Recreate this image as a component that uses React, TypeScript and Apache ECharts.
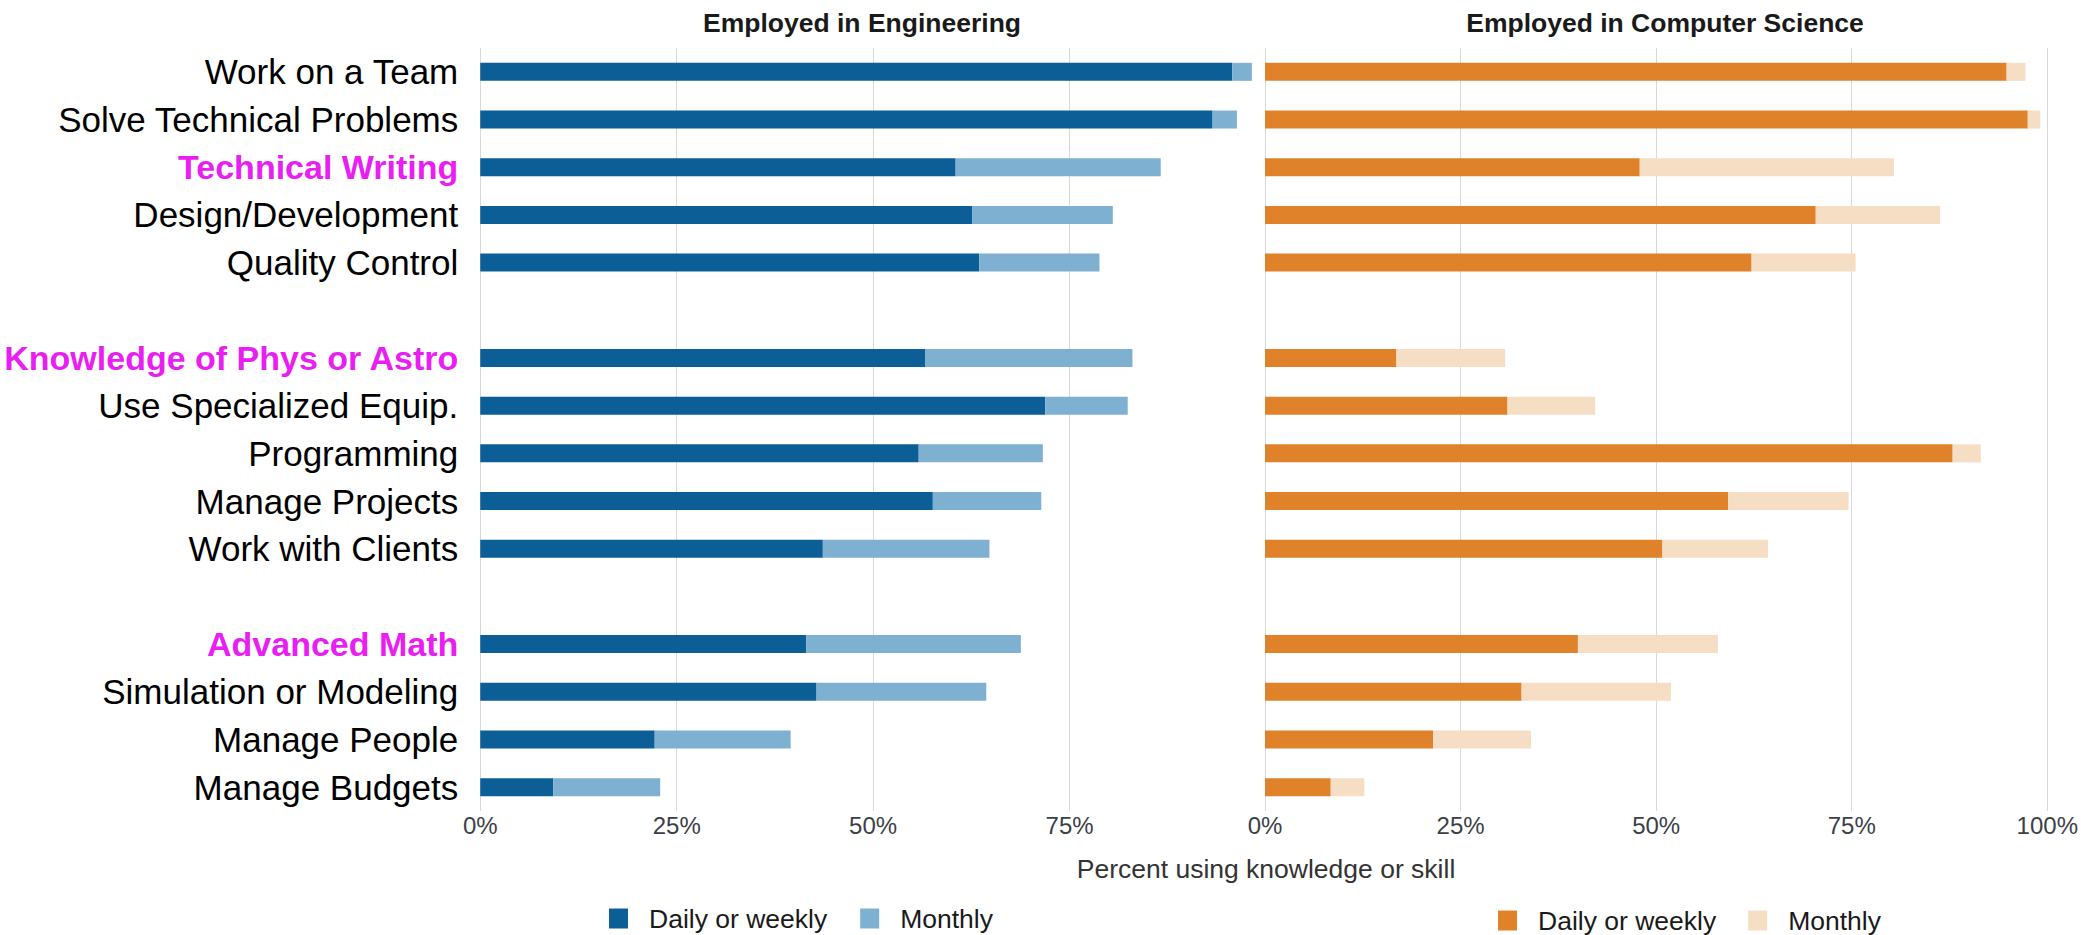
import React, { useEffect, useRef } from 'react';
import * as echarts from 'echarts';

// ---- data ----
const categories = [
  'Work on a Team',
  'Solve Technical Problems',
  'Technical Writing',
  'Design/Development',
  'Quality Control',
  ' ',
  'Knowledge of Phys or Astro',
  'Use Specialized Equip.',
  'Programming',
  'Manage Projects',
  'Work with Clients',
  '  ',
  'Advanced Math',
  'Simulation or Modeling',
  'Manage People',
  'Manage Budgets',
];
const highlighted = ['Technical Writing', 'Knowledge of Phys or Astro', 'Advanced Math'];

const engDaily = [95.7, 93.2, 60.5, 62.6, 63.5, null, 56.6, 71.9, 55.8, 57.6, 43.6, null, 41.5, 42.8, 22.2, 9.3];
const engMonthly = [2.5, 3.1, 26.1, 17.9, 15.3, null, 26.4, 10.5, 15.8, 13.8, 21.2, null, 27.3, 21.6, 17.3, 13.6];
const csDaily = [94.8, 97.5, 47.9, 70.4, 62.2, null, 16.8, 31.0, 87.9, 59.2, 50.8, null, 40.0, 32.8, 21.5, 8.4];
const csMonthly = [2.4, 1.6, 32.5, 15.9, 13.3, null, 13.9, 11.2, 3.6, 15.4, 13.5, null, 17.9, 19.1, 12.5, 4.3];

const panelTitles = ['Employed in Engineering', 'Employed in Computer Science'];
const axisTitle = 'Percent using knowledge or skill';
const legendNames = ['Daily or weekly', 'Monthly'];
const CS_SUFFIX = ' (CS)';

const FONT = 'Liberation Sans, Arial, sans-serif';
const C_DARK_BLUE = '#0b5e96';
const C_LIGHT_BLUE = '#7eb0d2';
const C_ORANGE = '#e0822a';
const C_PEACH = '#f6dec4';
const C_MAGENTA = '#e91ef2';

export default function App() {
  const ref = useRef<HTMLDivElement>(null);

  useEffect(() => {
    if (!ref.current) return;
    const chart = echarts.init(ref.current, undefined, { renderer: 'svg' });

    const gridTop = 48;
    const gridHeight = 763;

    const xAxisCommon = {
      type: 'value',
      min: 0,
      max: 100,
      interval: 25,
      axisLine: { show: false },
      axisTick: { show: false },
      splitLine: { show: true, lineStyle: { color: '#d9d9d9', width: 1 } },
      axisLabel: {
        formatter: (v: number) => `${v}%`,
        fontSize: 24,
        fontFamily: FONT,
        color: '#3a3f48',
        margin: 2,
      },
    };

    const barCommon = { type: 'bar', barWidth: 18 };

    const legendText = {
      fontSize: 26.5,
      fontFamily: FONT,
      color: '#1a1a1a',
      padding: [0, 0, 0, 16],
    };

    chart.setOption({
      animation: false,
      backgroundColor: '#ffffff',
      grid: [
        { left: 472, width: 794, top: gridTop, height: gridHeight },
        { left: 1265, width: 793, top: gridTop, height: gridHeight },
      ],
      xAxis: [
        {
          ...xAxisCommon,
          gridIndex: 0,
          axisLabel: { ...xAxisCommon.axisLabel, showMaxLabel: false },
          splitLine: { ...xAxisCommon.splitLine, showMaxLine: false },
        },
        { ...xAxisCommon, gridIndex: 1 },
      ],
      yAxis: [
        {
          type: 'category',
          gridIndex: 0,
          data: categories,
          inverse: true,
          axisLine: { show: false },
          axisTick: { show: false },
          axisLabel: {
            margin: 22,
            fontSize: 35,
            fontFamily: FONT,
            color: '#000000',
            interval: 0,
            formatter: (v: string) => (highlighted.includes(v) ? `{m|${v}}` : v),
            rich: {
              m: { color: C_MAGENTA, fontWeight: 'bold', fontSize: 34, fontFamily: FONT },
            },
          },
        },
        {
          type: 'category',
          gridIndex: 1,
          data: categories,
          inverse: true,
          axisLine: { show: false },
          axisTick: { show: false },
          axisLabel: { show: false },
        },
      ],
      legend: [
        {
          data: legendNames,
          left: 609,
          top: 905,
          padding: 0,
          itemWidth: 19,
          itemHeight: 20,
          itemGap: 33,
          selectedMode: false,
          icon: 'rect',
          textStyle: legendText,
        },
        {
          data: legendNames.map((n) => n + CS_SUFFIX),
          left: 1498,
          top: 907,
          padding: 0,
          itemWidth: 19,
          itemHeight: 20,
          itemGap: 32,
          selectedMode: false,
          icon: 'rect',
          formatter: (n: string) => n.replace(CS_SUFFIX, ''),
          textStyle: legendText,
        },
      ],
      series: [
        {
          ...barCommon,
          name: legendNames[0],
          xAxisIndex: 0,
          yAxisIndex: 0,
          stack: 'eng',
          data: engDaily,
          itemStyle: { color: C_DARK_BLUE },
        },
        {
          ...barCommon,
          name: legendNames[1],
          xAxisIndex: 0,
          yAxisIndex: 0,
          stack: 'eng',
          data: engMonthly,
          itemStyle: { color: C_LIGHT_BLUE },
        },
        {
          ...barCommon,
          name: legendNames[0] + CS_SUFFIX,
          xAxisIndex: 1,
          yAxisIndex: 1,
          stack: 'cs',
          data: csDaily,
          itemStyle: { color: C_ORANGE },
        },
        {
          ...barCommon,
          name: legendNames[1] + CS_SUFFIX,
          xAxisIndex: 1,
          yAxisIndex: 1,
          stack: 'cs',
          data: csMonthly,
          itemStyle: { color: C_PEACH },
        },
      ],
      graphic: [
        {
          type: 'text',
          x: 862,
          y: 23,
          style: {
            text: panelTitles[0],
            align: 'center',
            verticalAlign: 'middle',
            fontSize: 26.5,
            fontWeight: 'bold',
            fontFamily: FONT,
            fill: '#1a1a1a',
          },
        },
        {
          type: 'text',
          x: 1665,
          y: 23,
          style: {
            text: panelTitles[1],
            align: 'center',
            verticalAlign: 'middle',
            fontSize: 26.5,
            fontWeight: 'bold',
            fontFamily: FONT,
            fill: '#1a1a1a',
          },
        },
        {
          type: 'text',
          x: 1266,
          y: 869,
          style: {
            text: axisTitle,
            align: 'center',
            verticalAlign: 'middle',
            fontSize: 26.5,
            fontFamily: FONT,
            fill: '#333333',
          },
        },
      ],
    });

    return () => chart.dispose();
  }, []);

  return (
    <div
      ref={ref}
      style={{ position: 'absolute', left: 0, top: 0, width: 2081, height: 935, background: '#fff' }}
    />
  );
}
